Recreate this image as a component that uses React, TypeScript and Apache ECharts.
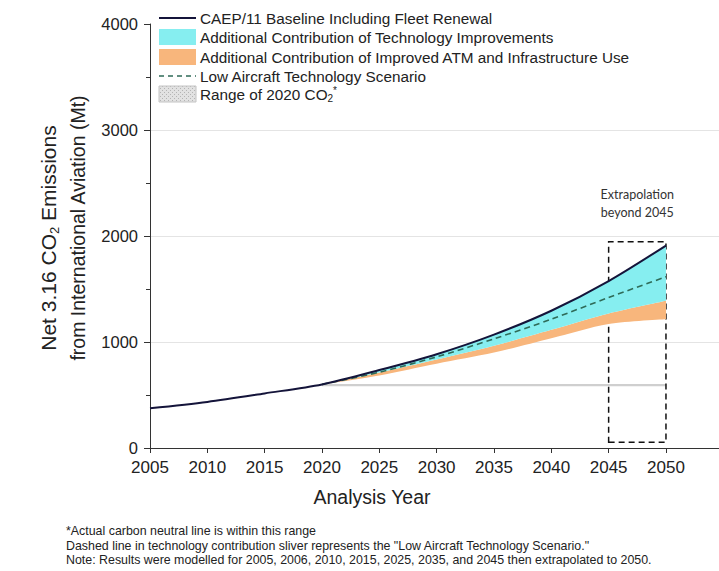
import React, { useEffect, useRef } from 'react';
import * as echarts from 'echarts';

// ---- data ----
const years = [2005, 2010, 2015, 2020, 2025, 2030, 2035, 2040, 2045, 2050];
const baseline = [375, 435, 515, 600, 735, 885, 1070, 1295, 1575, 1910];
const bandYears = [2020, 2025, 2030, 2035, 2040, 2045, 2050];
const lowTech = [600, 715, 860, 1030, 1215, 1420, 1615];
const atmTop = [600, 712, 835, 965, 1115, 1270, 1390];
const atmBottom = [600, 685, 795, 900, 1035, 1170, 1215];
const range2020 = [582, 604];
const rangeYears = [2020, 2050];
const extrapBox = [2045, 2050];
const extrapRange = [55, 1945];
const xRange = [2005, 2055];
const yRange = [0, 4000];

const legendLabels = [
  'CAEP/11 Baseline Including Fleet Renewal',
  'Additional Contribution of Technology Improvements',
  'Additional Contribution of Improved ATM and Infrastructure Use',
  'Low Aircraft Technology Scenario',
  'Range of 2020 CO',
];
const footnotes = [
  '*Actual carbon neutral line is within this range',
  'Dashed line in technology contribution sliver represents the "Low Aircraft Technology Scenario."',
  'Note: Results were modelled for 2005, 2006, 2010, 2015, 2025, 2035, and 2045 then extrapolated to 2050.',
];

const FONT = '"Liberation Sans", Arial, sans-serif';
const C_BASE = '#14143a';
const C_CYAN = '#86eef0';
const C_ORANGE = '#f8b67c';
const C_DASH = '#2f6b58';

function makePattern(): any {
  const c = document.createElement('canvas');
  c.width = 4;
  c.height = 4;
  const ctx = c.getContext('2d');
  if (ctx) {
    ctx.fillStyle = '#e2e2e2';
    ctx.fillRect(0, 0, 4, 4);
    ctx.fillStyle = '#b4b4b4';
    ctx.fillRect(0, 0, 1, 1);
    ctx.fillRect(2, 2, 1, 1);
  }
  return { image: c, repeat: 'repeat' };
}

export default function App() {
  const ref = useRef<HTMLDivElement>(null);

  useEffect(() => {
    if (!ref.current) return;
    const chart = echarts.init(ref.current, null, { renderer: 'svg' });

    const baselineAtBand = bandYears.map((y) => baseline[years.indexOf(y)]);

    const legendX = 159;
    const legendRows = [18, 37, 57, 76, 94];

    const option: any = {
      animation: false,
      backgroundColor: '#ffffff',
      grid: {
        left: 150,
        width: 573.3,
        top: 24,
        height: 424,
        containLabel: false,
        outerBoundsMode: 'none',
      },
      xAxis: {
        type: 'value',
        min: xRange[0],
        max: xRange[1],
        interval: 5,
        axisLine: { show: true, lineStyle: { color: '#333', width: 1 } },
        axisTick: { show: true, length: 5, lineStyle: { color: '#333' } },
        axisLabel: {
          fontSize: 17,
          color: '#222',
          fontFamily: FONT,
          margin: 11,
          formatter: (v: number) => (v > 2050 ? '' : String(v)),
        },
        splitLine: { show: false },
      },
      yAxis: {
        type: 'value',
        min: yRange[0],
        max: yRange[1],
        interval: 1000,
        axisLine: { show: true, lineStyle: { color: '#333', width: 1 } },
        axisTick: { show: true, length: 6, lineStyle: { color: '#333' } },
        minorTick: { show: true, splitNumber: 2, length: 4, lineStyle: { color: '#333' } },
        axisLabel: {
          fontSize: 16.5,
          color: '#222',
          fontFamily: FONT,
          margin: 12,
          formatter: (v: number) => String(v),
        },
        splitLine: {
          show: true,
          lineStyle: { color: ['#e4e4e4', '#e4e4e4', '#e4e4e4', '#e4e4e4', 'rgba(0,0,0,0)'], width: 1 },
        },
      },
      series: [
        {
          type: 'line',
          name: 'atmBase',
          stack: 'band',
          encode: { x: 1, y: 0 },
          data: bandYears.map((y, i) => [atmBottom[i], y]),
          smooth: 0.3,
          symbol: 'none',
          silent: true,
          lineStyle: { opacity: 0, width: 0 },
          z: 2,
        },
        {
          type: 'line',
          name: legendLabels[2],
          stack: 'band',
          encode: { x: 1, y: 0 },
          data: bandYears.map((y, i) => [atmTop[i] - atmBottom[i], y]),
          smooth: 0.3,
          symbol: 'none',
          lineStyle: { opacity: 0, width: 0 },
          areaStyle: { color: C_ORANGE, opacity: 1 },
          z: 2,
        },
        {
          type: 'line',
          name: legendLabels[1],
          stack: 'band',
          encode: { x: 1, y: 0 },
          data: bandYears.map((y, i) => [baselineAtBand[i] - atmTop[i], y]),
          smooth: 0.3,
          symbol: 'none',
          lineStyle: { opacity: 0, width: 0 },
          areaStyle: { color: C_CYAN, opacity: 1 },
          z: 2,
        },
        {
          type: 'line',
          name: legendLabels[3],
          data: bandYears.map((y, i) => [y, lowTech[i]]),
          smooth: 0.3,
          symbol: 'none',
          lineStyle: { color: C_DASH, width: 1.6, type: [6, 4] },
          z: 4,
        },
        {
          type: 'line',
          name: legendLabels[0],
          data: years.map((y, i) => [y, baseline[i]]),
          smooth: 0.3,
          symbol: 'none',
          lineStyle: { color: C_BASE, width: 2 },
          z: 5,
          markArea: {
            silent: true,
            data: [
              [
                {
                  coord: [rangeYears[0], range2020[0]],
                  itemStyle: { color: 'rgba(195,195,195,0.8)', borderWidth: 0 },
                  label: { show: false },
                },
                { coord: [rangeYears[1], range2020[1]] },
              ],
              [
                {
                  coord: [extrapBox[0], extrapRange[0]],
                  itemStyle: {
                    color: 'rgba(0,0,0,0)',
                    borderColor: '#111',
                    borderWidth: 1.5,
                    borderType: [6, 4],
                  },
                  label: {
                    show: true,
                    position: 'top',
                    distance: 20,
                    formatter: 'Extrapolation\nbeyond 2045',
                    fontFamily: 'Lato, "Open Sans", sans-serif',
                    fontSize: 12.5,
                    lineHeight: 18,
                    color: '#333',
                    align: 'center',
                  },
                },
                { coord: [extrapBox[1], extrapRange[1]] },
              ],
            ],
          },
        },
      ],
      graphic: [
        // legend swatches
        {
          type: 'line',
          shape: { x1: legendX, y1: legendRows[0], x2: legendX + 37, y2: legendRows[0] },
          style: { stroke: C_BASE, lineWidth: 2 },
        },
        {
          type: 'rect',
          shape: { x: legendX, y: legendRows[1] - 8, width: 37, height: 16 },
          style: { fill: C_CYAN },
        },
        {
          type: 'rect',
          shape: { x: legendX, y: legendRows[2] - 8, width: 37, height: 16 },
          style: { fill: C_ORANGE },
        },
        {
          type: 'line',
          shape: { x1: legendX, y1: legendRows[3], x2: legendX + 37, y2: legendRows[3] },
          style: { stroke: C_DASH, lineWidth: 1.6, lineDash: [5, 4] },
        },
        {
          type: 'rect',
          shape: { x: legendX, y: legendRows[4] - 8, width: 37, height: 16 },
          style: { fill: makePattern(), stroke: '#c4c4c4', lineWidth: 1 },
        },
        ...legendLabels.slice(0, 4).map((t, i) => ({
          type: 'text',
          x: 200,
          y: legendRows[i],
          style: {
            text: t,
            fontFamily: FONT,
            fontSize: 15.3,
            fill: '#222',
            textAlign: 'left',
            textVerticalAlign: 'middle',
          },
        })),
        {
          type: 'text',
          x: 200,
          y: legendRows[4],
          style: {
            text: '{t|' + legendLabels[4] + '}{s|2}{u|*}',
            fontFamily: FONT,
            fontSize: 15.3,
            fill: '#222',
            textAlign: 'left',
            textVerticalAlign: 'middle',
            rich: {
              t: { fontSize: 15.3, fontFamily: FONT, lineHeight: 18, verticalAlign: 'middle' },
              s: { fontSize: 10, fontFamily: FONT, lineHeight: 10, verticalAlign: 'bottom' },
              u: { fontSize: 10, fontFamily: FONT, lineHeight: 10, verticalAlign: 'top' },
            },
          },
        },
        // y-axis title
        {
          type: 'text',
          x: 48,
          y: 238,
          rotation: Math.PI / 2,
          style: {
            text: '{a|Net 3.16 CO}{s|2}{a| Emissions}',
            fontFamily: FONT,
            fontSize: 21,
            fill: '#222',
            textAlign: 'center',
            textVerticalAlign: 'middle',
            rich: {
              a: { fontSize: 21, fontFamily: FONT, lineHeight: 26, verticalAlign: 'middle' },
              s: { fontSize: 13, fontFamily: FONT, lineHeight: 13, verticalAlign: 'bottom' },
            },
          },
        },
        {
          type: 'text',
          x: 78,
          y: 228,
          rotation: Math.PI / 2,
          style: {
            text: 'from International Aviation (Mt)',
            fontFamily: FONT,
            fontSize: 19.5,
            fill: '#222',
            textAlign: 'center',
            textVerticalAlign: 'middle',
          },
        },
        // x-axis title
        {
          type: 'text',
          x: 372,
          y: 497,
          style: {
            text: 'Analysis Year',
            fontFamily: FONT,
            fontSize: 19.5,
            fill: '#222',
            textAlign: 'center',
            textVerticalAlign: 'middle',
          },
        },
        // footnotes
        ...footnotes.map((t, i) => ({
          type: 'text',
          x: 66,
          y: 531 + i * 14.5,
          style: {
            text: t,
            fontFamily: FONT,
            fontSize: 12.4,
            fill: '#222',
            textAlign: 'left',
            textVerticalAlign: 'middle',
          },
        })),
      ],
    };

    chart.setOption(option);
    return () => chart.dispose();
  }, []);

  return (
    <div
      ref={ref}
      style={{ position: 'fixed', left: 0, top: 0, width: 719, height: 571, background: '#fff' }}
    />
  );
}
